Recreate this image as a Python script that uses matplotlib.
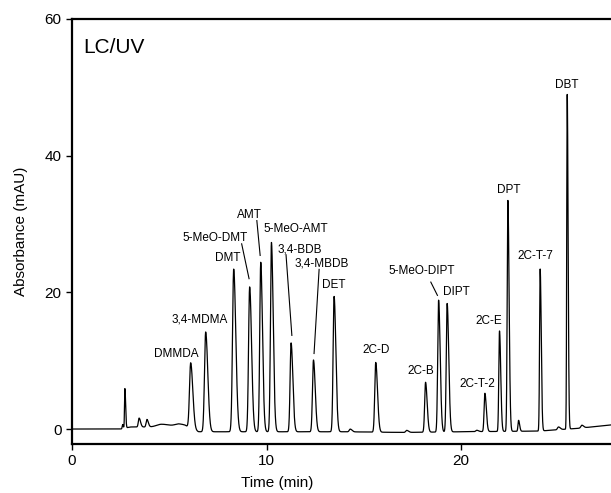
import numpy as np
import matplotlib.pyplot as plt

plt.rcParams['font.family'] = ['Liberation Sans', 'DejaVu Sans']

# Peaks: retention time (min), height (mAU), width (min)
peak_t = [2.60, 2.72, 3.45, 3.85, 4.6, 5.5, 6.10, 6.87, 8.31, 9.13, 9.70, 10.25,
          11.26, 12.41, 13.47, 14.3, 15.61, 17.2, 18.17, 18.84, 19.28, 20.8,
          21.22, 21.97, 22.40, 22.95, 24.06, 25.0, 25.45, 26.2]
peak_h = [0.6, 5.8, 1.3, 1.1, 0.4, 0.4, 9.6, 14.6, 23.8, 21.2, 24.8, 27.7,
          13.0, 10.5, 19.8, 0.4, 10.2, 0.3, 7.3, 19.3, 18.8, 0.2,
          5.6, 14.7, 33.8, 1.6, 23.7, 0.4, 49.0, 0.4]
peak_w = [0.02, 0.02, 0.04, 0.04, 0.25, 0.2, 0.06, 0.06, 0.06, 0.055, 0.05, 0.05,
          0.05, 0.05, 0.05, 0.05, 0.05, 0.05, 0.045, 0.045, 0.045, 0.05,
          0.04, 0.035, 0.035, 0.03, 0.03, 0.05, 0.025, 0.05]

# Baseline drift read at a few times
base_t = [0, 2.5, 3.0, 5.8, 6.5, 14, 17, 20, 24, 26, 27.7]
base_v = [0, 0, 0.3, 0.3, -0.4, -0.4, -0.5, -0.4, -0.3, 0.1, 0.6]

# Labels: name, text position (min, mAU), leader line start/end
labels = ['DMMDA', '3,4-MDMA', 'DMT', '5-MeO-DMT', 'AMT', '5-MeO-AMT', '3,4-BDB',
          '3,4-MBDB', 'DET', '2C-D', '2C-B', '5-MeO-DIPT', 'DIPT', '2C-T-2', '2C-E',
          'DPT', '2C-T-7', 'DBT']
label_x = [5.38, 6.55, 7.98, 7.35, 9.12, 11.52, 11.72, 12.84, 13.43, 15.63, 17.94,
           17.98, 19.74, 20.81, 21.40, 22.43, 23.80, 25.45]
label_y = [11.05, 16.06, 25.0, 27.99, 31.39, 29.2, 26.23, 24.19, 21.02, 11.53, 8.51,
           23.07, 20.04, 6.57, 15.81, 35.04, 25.3, 50.4]
leaders = {'5-MeO-DMT': ((8.72, 27.1), (9.10, 22.0)),
           'AMT': ((9.50, 30.5), (9.67, 25.4)),
           '3,4-BDB': ((11.0, 25.5), (11.30, 13.7)),
           '3,4-MBDB': ((12.70, 23.36), (12.44, 11.05)),
           '5-MeO-DIPT': ((18.44, 21.5), (18.78, 19.56))}

# Build trace from the peak table (slightly tailing peaks)
t = np.linspace(0, 27.7, 8000)
y = np.interp(t, base_t, base_v)
for t0, h, w in zip(peak_t, peak_h, peak_w):
    s = np.where(t < t0, w, w * 1.8)
    y += h * np.exp(-0.5 * ((t - t0) / s) ** 2)

fig = plt.figure(figsize=(6.11, 4.93), dpi=100)
ax = fig.add_axes([0.1178, 0.0994, 0.8822, 0.8621])
ax.plot(t, y, color='black', linewidth=0.9)

for name, lx, ly in zip(labels, label_x, label_y):
    ax.text(lx, ly, name, ha='center', va='center', fontsize=8.5)
for name, (p0, p1) in leaders.items():
    ax.plot([p0[0], p1[0]], [p0[1], p1[1]], color='black', linewidth=0.8)

ax.text(0.02, 0.955, 'LC/UV', transform=ax.transAxes, fontsize=15, va='top', ha='left')

ax.set_xlim(0, 27.7)
ax.set_ylim(-2.19, 60)
ax.set_xticks([0, 10, 20])
ax.set_yticks([0, 20, 40, 60])
ax.tick_params(direction='out', length=4, width=1, labelsize=11)
ax.spines['right'].set_visible(False)
for side in ['left', 'bottom', 'top']:
    ax.spines[side].set_linewidth(1.6)
ax.set_xlabel('Time (min)', fontsize=11)
ax.xaxis.set_label_coords(0.38, -0.075)
ax.set_ylabel('Absorbance (mAU)', fontsize=11, labelpad=12)

fig.savefig('out.png', dpi=100)
